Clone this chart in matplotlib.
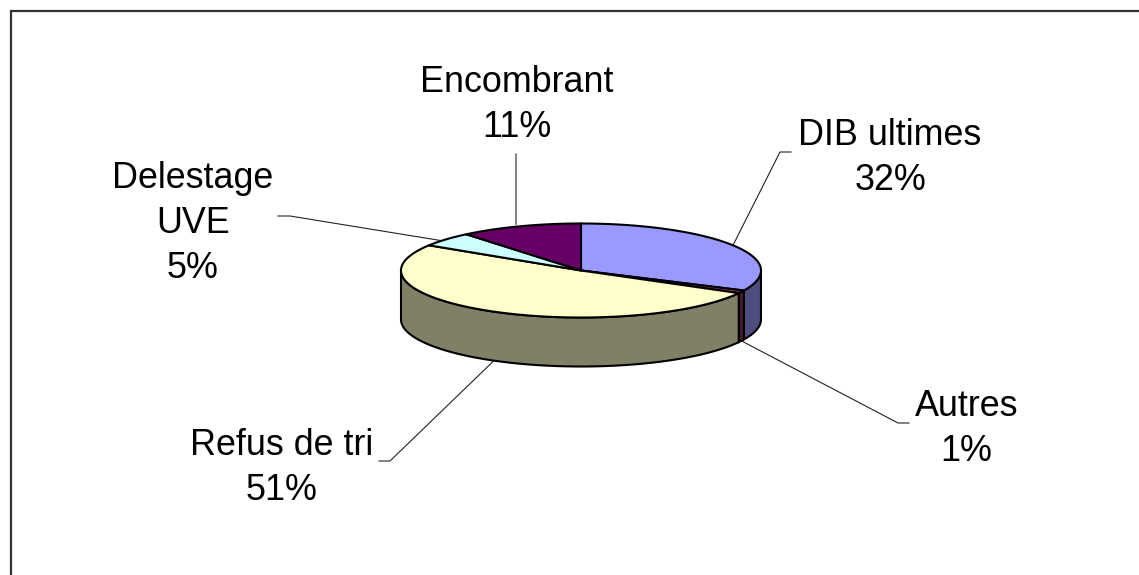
import numpy as np
import matplotlib
matplotlib.use('Agg')
import matplotlib.pyplot as plt
from matplotlib.patches import Polygon

plt.rcParams['font.family'] = ['Liberation Sans', 'DejaVu Sans']

categories = ['DIB ultimes', 'Autres', 'Refus de tri', 'Delestage\nUVE', 'Encombrant']
values = [32, 1, 51, 5, 11]
top_colors = ['#9999FF', '#993366', '#FFFFCC', '#CCFFFF', '#660066']
side_colors = ['#4D4D80', '#4D1A33', '#808066', '#668080', '#330033']

# pie geometry, in pixels of the image
cx, cy = 581, 270.5
rx, ry = 180, 47
depth = 49

# label x centre and last baseline, elbow points of the leader, shift of the leader start
label_pos = [(890, 190), (966.5, 461), (282, 499.5), (193, 278), (517, 137)]
elbows = [[(780, 152), (791, 152)],
          [(898, 423), (909, 423)],
          [(390, 461), (379, 461)],
          [(290, 216), (278, 216)],
          [(516, 154)]]
nudges = [(0, 0), (0, 0), (3.5, 1.7), (-6, 1), (-4, -2)]


def rim(t1, t2, drop=0):
    # points of the ellipse, angles clockwise from the top in degrees
    t = np.radians(np.linspace(t1, t2, max(int(abs(t2 - t1)) * 2, 2)))
    return np.column_stack([cx + rx * np.sin(t), cy - ry * np.cos(t) + drop])


fig = plt.figure(figsize=(11.39, 5.75), dpi=100)
ax = fig.add_axes([0, 0, 1, 1])
ax.set_xlim(0, 1139)
ax.set_ylim(575, 0)
ax.axis('off')

# chart frame, runs off the image on the right and at the bottom
ax.plot([11, 11, 1139], [575, 10.5, 10.5], color='#333333', lw=1.6, solid_joinstyle='miter', zorder=1)

edges = np.cumsum([0] + values) * 3.6

# side walls, only the front half of the pie shows them
for i in range(len(values)):
    a, b = max(edges[i], 90), min(edges[i + 1], 270)
    if a < b:
        wall = np.vstack([rim(a, b), rim(a, b, depth)[::-1]])
        ax.add_patch(Polygon(wall, closed=True, facecolor=side_colors[i], edgecolor='black', lw=1.5, zorder=2))

# top face
for i in range(len(values)):
    face = np.vstack([[(cx, cy)], rim(edges[i], edges[i + 1])])
    ax.add_patch(Polygon(face, closed=True, facecolor=top_colors[i], edgecolor='black', lw=1.5, zorder=3))

# leaders and labels
for i, name in enumerate(categories):
    mid = (edges[i] + edges[i + 1]) / 2
    drop = depth if 90 < mid < 270 else 0
    start = rim(mid, mid + 1, drop)[0] + np.array(nudges[i])
    pts = np.vstack([start, elbows[i]])
    ax.plot(pts[:, 0], pts[:, 1], color='#222222', lw=0.8, zorder=1.5)
    ax.text(label_pos[i][0], label_pos[i][1], f'{name}\n{values[i]}%', ha='center', va='baseline',
            fontsize=25.8, linespacing=1.37, color='black', zorder=4)

fig.savefig('out.png', dpi=100)
